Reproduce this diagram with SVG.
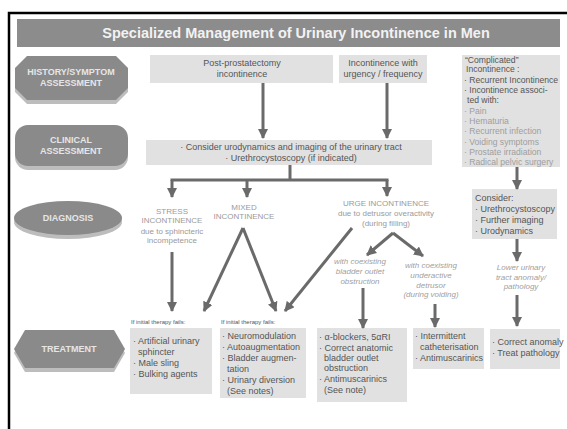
<svg xmlns="http://www.w3.org/2000/svg" width="567" height="429" viewBox="0 0 567 429">
<defs>
<style>
.box{fill:#e1e1e1;}
.bt{font-family:"Liberation Sans",Arial,sans-serif;font-size:9px;fill:#555;}
.bc{font-family:"Liberation Sans",Arial,sans-serif;font-size:8.6px;fill:#555;}
.lt{font-family:"Liberation Sans",Arial,sans-serif;font-size:8.6px;fill:#9e9e9e;}
.dg{font-family:"Liberation Sans",Arial,sans-serif;font-size:8px;fill:#9a9a9a;text-anchor:middle;}
.it{font-family:"Liberation Sans",Arial,sans-serif;font-size:8px;fill:#a0a0a0;text-anchor:middle;font-style:italic;}
.side{fill:#8a8a8a;}
.shadow{fill:#bdbdbd;}
.st{font-family:"Liberation Sans",Arial,sans-serif;font-size:9px;font-weight:bold;fill:#e6e6e6;text-anchor:middle;}
.ln{stroke:#6a6a6a;stroke-width:3;fill:none;}
.ar{stroke:#6a6a6a;stroke-width:3;fill:none;marker-end:url(#ah);}
.sm{font-family:"Liberation Sans",Arial,sans-serif;font-size:6px;fill:#555;}
</style>
<marker id="ah" markerUnits="userSpaceOnUse" markerWidth="10" markerHeight="10" viewBox="0 0 10 10" refX="9" refY="5" orient="auto">
<path d="M0,0 L10,5 L0,10 Z" fill="#6a6a6a"/>
</marker>
</defs>
<rect x="0" y="0" width="567" height="429" fill="#fff"/>
<path d="M9,429 L9,13 L567,13" fill="none" stroke="#000" stroke-width="2.5"/>

<g id="title">
<rect x="17" y="19" width="543" height="28" fill="#8c8c8c"/>
<text x="296" y="38" font-family="Liberation Sans, Arial, sans-serif" font-size="14.5" font-weight="bold" fill="#f2f2f2" text-anchor="middle">Specialized Management of Urinary Incontinence in Men</text>
</g>

<g id="history">
<polygon class="shadow" points="27,60 116,60 128,72 128,92 116,104 27,104 15,92 15,72"/>
<polygon class="side" points="27,56 116,56 128,68 128,88 116,100 27,100 15,88 15,68"/>
<text class="st" x="71" y="75">HISTORY/SYMPTOM</text>
<text class="st" x="71" y="86">ASSESSMENT</text>
</g>

<g id="clinical">
<rect class="shadow" x="15" y="129" width="113" height="41" rx="13"/>
<rect class="side" x="15" y="125" width="113" height="41" rx="13"/>
<text class="st" x="71" y="143">CLINICAL</text>
<text class="st" x="71" y="154">ASSESSMENT</text>
</g>

<g id="diagnosis">
<ellipse class="shadow" cx="68" cy="222" rx="54" ry="17"/>
<ellipse class="side" cx="68" cy="218" rx="54" ry="17"/>
<text class="st" x="68" y="221">DIAGNOSIS</text>
</g>

<g id="treatment">
<polygon class="shadow" points="25,334 114,334 125,353 114,372 25,372 14,353"/>
<polygon class="side" points="25,330 114,330 125,349 114,368 25,368 14,349"/>
<text class="st" x="69" y="352">TREATMENT</text>
</g>

<g id="post-prostatectomy">
<rect class="box" x="150" y="55" width="183" height="28"/>
<text class="bt" x="242" y="66" text-anchor="middle">Post-prostatectomy</text>
<text class="bt" x="242" y="77" text-anchor="middle">incontinence</text>
</g>

<g id="urgency">
<rect class="box" x="339" y="55" width="88" height="28"/>
<text class="bt" x="383" y="66" text-anchor="middle">Incontinence with</text>
<text class="bt" x="383" y="77" text-anchor="middle">urgency / frequency</text>
</g>

<g id="complicated">
<rect class="box" x="462" y="55" width="98" height="112"/>
<text class="bc" x="465" y="63">“Complicated”</text>
<text class="bc" x="466" y="72">Incontinence :</text>
<text class="bc" x="464" y="83">· Recurrent Incontinence</text>
<text class="bc" x="464" y="93">· Incontinence associ-</text>
<text class="bc" x="467" y="103">ted with:</text>
<text class="lt" x="464" y="114">· Pain</text>
<text class="lt" x="464" y="124">· Hematuria</text>
<text class="lt" x="464" y="134">· Recurrent infection</text>
<text class="lt" x="464" y="145">· Voiding symptoms</text>
<text class="lt" x="464" y="155">· Prostate irradiation</text>
<text class="lt" x="464" y="165">· Radical pelvic surgery</text>
</g>

<g id="clinical-box">
<rect class="box" x="146" y="140" width="286" height="25"/>
<text class="bt" x="291" y="150" text-anchor="middle" font-size="9.5">· Consider urodynamics and imaging of the urinary tract</text>
<text class="bt" x="291" y="161" text-anchor="middle" font-size="9.5">· Urethrocystoscopy (if indicated)</text>
</g>

<g id="consider">
<rect class="box" x="472" y="189" width="85" height="50"/>
<text class="bt" x="475" y="201">Consider:</text>
<text class="bt" x="475" y="212">· Urethrocystoscopy</text>
<text class="bt" x="475" y="223">· Further imaging</text>
<text class="bt" x="475" y="234">· Urodynamics</text>
</g>

<g id="stress">
<text class="dg" x="172" y="214" font-size="8.5">STRESS</text>
<text class="dg" x="172" y="223" font-size="8.5">INCONTINENCE</text>
<text class="dg" x="172" y="234">due to sphincteric</text>
<text class="dg" x="172" y="243">incompetence</text>
</g>

<g id="mixed">
<text class="dg" x="244" y="210" font-size="8.5">MIXED</text>
<text class="dg" x="244" y="219" font-size="8.5">INCONTINENCE</text>
</g>

<g id="urge">
<text class="dg" x="386" y="206" font-size="8.5">URGE INCONTINENCE</text>
<text class="dg" x="386" y="216" font-size="8.5">due to detrusor overactivity</text>
<text class="dg" x="386" y="226" font-size="8.5">(during filling)</text>
</g>

<g id="outlet">
<text class="it" x="360" y="264">with coexisting</text>
<text class="it" x="360" y="274">bladder outlet</text>
<text class="it" x="360" y="284">obstruction</text>
</g>

<g id="underactive">
<text class="it" x="431" y="268">with coexisting</text>
<text class="it" x="431" y="278">underactive</text>
<text class="it" x="431" y="288">detrusor</text>
<text class="it" x="431" y="297">(during voiding)</text>
</g>

<g id="lower-tract">
<text class="it" x="521" y="270">Lower urinary</text>
<text class="it" x="521" y="280">tract anomaly/</text>
<text class="it" x="521" y="289">pathology</text>
</g>

<g id="tx-stress">
<text class="sm" x="131" y="324">If initial therapy fails:</text>
<rect class="box" x="130" y="328" width="82" height="66"/>
<text class="bt" x="133" y="344">· Artificial urinary</text>
<text class="bt" x="138" y="355">sphincter</text>
<text class="bt" x="133" y="366">· Male sling</text>
<text class="bt" x="133" y="377">· Bulking agents</text>
</g>

<g id="tx-mixed">
<text class="sm" x="221" y="324">If initial therapy fails:</text>
<rect class="box" x="220" y="328" width="86" height="70"/>
<text class="bt" x="222" y="339" font-size="8.7">· Neuromodulation</text>
<text class="bt" x="222" y="350" font-size="8.7">· Autoaugmentation</text>
<text class="bt" x="222" y="361" font-size="8.7">· Bladder augmen-</text>
<text class="bt" x="227" y="372" font-size="8.7">tation</text>
<text class="bt" x="222" y="383" font-size="8.7">· Urinary diversion</text>
<text class="bt" x="227" y="394" font-size="8.7">(See notes)</text>
</g>

<g id="tx-outlet">
<rect class="box" x="317" y="328" width="90" height="74"/>
<text class="bt" x="319" y="340">· α-blockers, 5αRI</text>
<text class="bt" x="319" y="351">· Correct anatomic</text>
<text class="bt" x="324" y="361">bladder outlet</text>
<text class="bt" x="324" y="371">obstruction</text>
<text class="bt" x="319" y="382">· Antimuscarinics</text>
<text class="bt" x="324" y="393">(See note)</text>
</g>

<g id="tx-underactive">
<rect class="box" x="413" y="328" width="71" height="41"/>
<text class="bt" x="415" y="339">· Intermittent</text>
<text class="bt" x="420" y="350">catheterisation</text>
<text class="bt" x="415" y="361">· Antimuscarinics</text>
</g>

<g id="tx-anomaly">
<rect class="box" x="490" y="329" width="70" height="40"/>
<text class="bt" x="492" y="345" font-size="8.5">· Correct anomaly</text>
<text class="bt" x="492" y="356" font-size="8.5">· Treat pathology</text>
</g>

<g id="connectors">
<line class="ar" x1="263" y1="83" x2="263" y2="138"/>
<line class="ar" x1="387" y1="83" x2="387" y2="138"/>
<polyline class="ln" points="290,165 290,180"/>
<polyline class="ln" points="172,181 172,180 387,180 387,181"/>
<line class="ar" x1="172" y1="180" x2="172" y2="197"/>
<line class="ar" x1="247" y1="180" x2="247" y2="197"/>
<line class="ar" x1="387" y1="180" x2="387" y2="196"/>
<line class="ar" x1="517" y1="167" x2="517" y2="189"/>
<line class="ar" x1="517" y1="239" x2="517" y2="261"/>
<line class="ar" x1="517" y1="295" x2="517" y2="326"/>
<line class="ar" x1="172" y1="252" x2="172" y2="311"/>
<line class="ar" x1="243" y1="228" x2="204" y2="311"/>
<line class="ar" x1="243" y1="228" x2="276" y2="311"/>
<line class="ar" x1="352" y1="228" x2="285" y2="311"/>
<line class="ar" x1="393" y1="233" x2="367" y2="255"/>
<line class="ar" x1="393" y1="233" x2="423" y2="256"/>
<line class="ar" x1="363" y1="288" x2="363" y2="328"/>
<line class="ar" x1="435" y1="304" x2="435" y2="327"/>
</g>
</svg>
